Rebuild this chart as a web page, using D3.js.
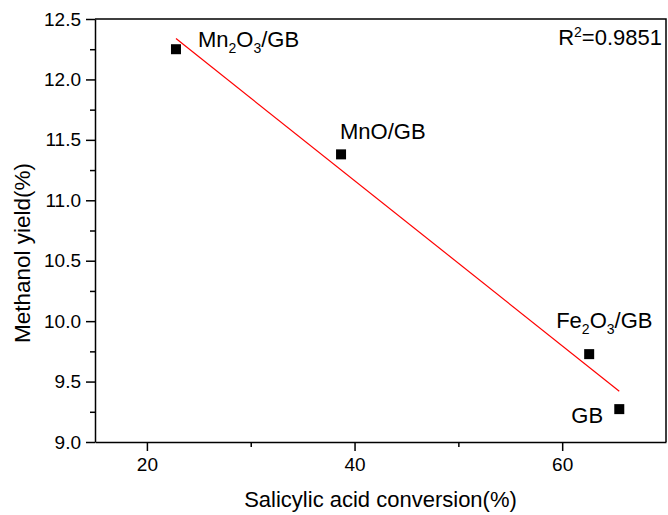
<!DOCTYPE html>
<html>
<head>
<meta charset="utf-8">
<script src="https://cdn.jsdelivr.net/npm/d3@7"></script>
<style>
  body { margin: 0; background: #fff; }
  svg { display: block; font-family: "Liberation Sans", Arial, sans-serif; }
</style>
</head>
<body>
<div id="chart"></div>
<script>
// data
const samples = ["Mn2O3/GB", "MnO/GB", "Fe2O3/GB", "GB"];
const conversion = [22.8, 38.7, 62.6, 65.5];
const yieldVals = [12.25, 11.38, 9.727, 9.272];
const xTicks = [20, 40, 60];
const yTicks = [9.0, 9.5, 10.0, 10.5, 11.0, 11.5, 12.0, 12.5];
const rSquared = "0.9851";

// label offsets from the point (px)
const labelOffset = {
    "Mn2O3/GB": [22, -2],
    "MnO/GB": [-1, -15],
    "Fe2O3/GB": [-33, -26],
    "GB": [-48, 14]
};

const width = 668;
const height = 515;
const marginTop = 19;
const marginRight = 2;
const marginBottom = 73;
const marginLeft = 95;

const points = samples.map((s, i) => ({ name: s, x: conversion[i], y: yieldVals[i] }));

const x = d3.scaleLinear()
    .domain([15, 70])
    .range([marginLeft, width - marginRight]);

const y = d3.scaleLinear()
    .domain([9.0, 12.5])
    .range([height - marginBottom, marginTop]);

const svg = d3.select("#chart").append("svg")
    .attr("width", width)
    .attr("height", height)
    .attr("viewBox", [0, 0, width, height]);

// minor ticks
svg.append("g")
    .attr("transform", `translate(${marginLeft},0)`)
    .call(d3.axisLeft(y).tickValues(d3.range(9.25, 12.5, 0.5)).tickSize(5).tickFormat(""))
    .call(g => g.select(".domain").remove())
    .call(g => g.selectAll("line").attr("stroke-width", 1.5));

svg.append("g")
    .attr("transform", `translate(0,${height - marginBottom})`)
    .call(d3.axisBottom(x).tickValues([30, 50]).tickSize(5).tickFormat(""))
    .call(g => g.select(".domain").remove())
    .call(g => g.selectAll("line").attr("stroke-width", 1.5));

// major axes
svg.append("g")
    .attr("transform", `translate(${marginLeft},0)`)
    .call(d3.axisLeft(y).tickValues(yTicks).tickSize(9).tickSizeOuter(0).tickPadding(5).tickFormat(d3.format(".1f")))
    .call(g => g.select(".domain").attr("stroke-width", 1.5))
    .call(g => g.selectAll("line").attr("stroke-width", 1.5))
    .call(g => g.selectAll("text").attr("font-size", 19).attr("fill", "#000").attr("font-family", "Liberation Sans, Arial, sans-serif"));

svg.append("g")
    .attr("transform", `translate(0,${height - marginBottom})`)
    .call(d3.axisBottom(x).tickValues(xTicks).tickSize(9).tickSizeOuter(0).tickPadding(7))
    .call(g => g.select(".domain").attr("stroke-width", 1.5))
    .call(g => g.selectAll("line").attr("stroke-width", 1.5))
    .call(g => g.selectAll("text").attr("font-size", 19).attr("fill", "#000").attr("font-family", "Liberation Sans, Arial, sans-serif"));

// frame top & right
svg.append("path")
    .attr("d", `M${marginLeft},${marginTop}H${width - marginRight}V${height - marginBottom}`)
    .attr("fill", "none")
    .attr("stroke", "#000")
    .attr("stroke-width", 1.5);

// axis titles
svg.append("text")
    .attr("x", (marginLeft + width - marginRight) / 2)
    .attr("y", 507)
    .attr("text-anchor", "middle")
    .attr("font-size", 22)
    .text("Salicylic acid conversion(%)");

svg.append("text")
    .attr("transform", "translate(30,253) rotate(-90)")
    .attr("text-anchor", "middle")
    .attr("font-size", 22.5)
    .text("Methanol yield(%)");

// linear fit
const mx = d3.mean(points, d => d.x);
const my = d3.mean(points, d => d.y);
const slope = d3.sum(points, d => (d.x - mx) * (d.y - my)) / d3.sum(points, d => (d.x - mx) ** 2);
const fx = d3.extent(points, d => d.x);

svg.append("line")
    .attr("x1", x(fx[0]))
    .attr("y1", y(my + slope * (fx[0] - mx)))
    .attr("x2", x(fx[1]))
    .attr("y2", y(my + slope * (fx[1] - mx)))
    .attr("stroke", "#ff0000")
    .attr("stroke-width", 1.2);

// points
svg.append("g")
    .selectAll("rect")
    .data(points)
    .join("rect")
    .attr("x", d => x(d.x) - 5)
    .attr("y", d => y(d.y) - 5)
    .attr("width", 10)
    .attr("height", 10)
    .attr("fill", "#000");

// labels with subscripts
function chemLabel(sel, name) {
    const parts = name.split(/(\d)/);
    parts.forEach(p => {
        if (p === "") return;
        if (/\d/.test(p)) {
            sel.append("tspan").attr("font-size", 14).attr("dy", 6).text(p);
        } else {
            const t = sel.append("tspan").text(p);
            if (sel.node().childNodes.length > 1) t.attr("dy", -6);
        }
    });
}

points.forEach(d => {
    const off = labelOffset[d.name];
    const t = svg.append("text")
        .attr("x", x(d.x) + off[0])
        .attr("y", y(d.y) + off[1])
        .attr("font-size", 22);
    chemLabel(t, d.name);
});

// R squared
const r2 = svg.append("text")
    .attr("x", 662)
    .attr("y", 45)
    .attr("text-anchor", "end")
    .attr("font-size", 22);
r2.append("tspan").text("R");
r2.append("tspan").attr("font-size", 14).attr("dy", -8).text("2");
r2.append("tspan").attr("dy", 8).text("=" + rSquared);
</script>
</body>
</html>
